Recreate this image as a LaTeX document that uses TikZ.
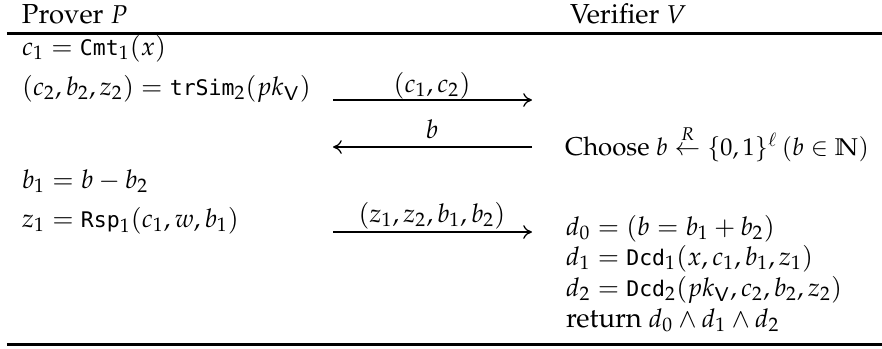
\documentclass[tikz,border=0pt]{standalone}
\usepackage[no-math]{fontspec}
\newfontfamily\dmono{DejaVu Sans Mono}
\usepackage[T1]{fontenc}
\usepackage{amssymb}
\usepackage{mathpazo}
\usetikzlibrary{arrows.meta}
\newcommand\mth[1]{{\fontsize{10.3}{12}\selectfont$#1$}}
\newcommand\mths[1]{{\fontsize{9.7}{12}\selectfont$#1$}}
\newcommand\tto[1]{\mbox{\dmono\fontsize{8.6}{10}\selectfont #1}}
\tikzset{
  txt/.style={anchor=base west, inner sep=0pt, outer sep=0pt, font=\fontencoding{T1}\fontfamily{ppl}\fontsize{11}{14}\selectfont},
  txts/.style={txt, font=\fontencoding{T1}\fontfamily{ppl}\fontsize{10.3}{13}\selectfont},
  lbl/.style={anchor=base, inner sep=0pt, font=\fontencoding{T1}\fontfamily{ppl}\fontsize{11}{14}\selectfont},
  msg/.style={line width=0.5pt, -{Computer Modern Rightarrow[length=3.5pt,width=5.5pt]}},
  rulel/.style={line width=1.2pt}
}
\begin{document}
\begin{tikzpicture}[x=0.4pt, y=-0.4pt]
\useasboundingbox (0,0) rectangle (882,348);
% headers
\node[txt] (hp) at (22,23) {Prover \mth{P}};
\node[txt] (hv) at (570,23) {Verifier \mth{V}};
\coordinate (tl) at (7,33); \coordinate (tr) at (882,33);
\draw[rulel] (tl) -- (tr);
% prover column
\node[txt] (p1) at (22,55) {\mth{c_1 = \tto{Cmt}_1(x)}};
\node[txt] (p2) at (22,95) {\mth{(c_2,b_2,z_2) = \tto{trSim}_2(pk_{\mathsf{V}})}};
\node[txt] (p3) at (22,188) {\mth{b_1 = b - b_2}};
\node[txt] (p4) at (22,227) {\mth{z_1 = \tto{Rsp}_1(c_1,w,b_1)}};
% verifier column
\node[txts] (v1) at (565,155) {Choose \mths{b \stackrel{R}{\leftarrow} \{0,1\}^{\ell}\,(b\in\mathbb{N})}};
\node[txt] (v2) at (566,235) {\mth{d_0 = (b = b_1 + b_2)}};
\node[txt] (v3) at (566,265) {\mth{d_1 = \tto{Dcd}_1(x,c_1,b_1,z_1)}};
\node[txt] (v4) at (566,296) {\mth{d_2 = \tto{Dcd}_2(pk_{\mathsf{V}},c_2,b_2,z_2)}};
\node[txt] (v5) at (566,327) {return \mth{d_0 \wedge d_1 \wedge d_2}};
% messages
\coordinate (a1s) at (333,100); \coordinate (a1e) at (532,100);
\coordinate (a2s) at (532,147); \coordinate (a2e) at (333,147);
\coordinate (a3s) at (333,232); \coordinate (a3e) at (532,232);
\draw[msg] (a1s) -- (a1e);
\draw[msg] (a2s) -- (a2e);
\draw[msg] (a3s) -- (a3e);
\node[lbl] (l1) at (432,92) {\mth{(c_1,c_2)}};
\node[lbl] (l2) at (432,138) {\mth{b}};
\node[lbl] (l3) at (432,222) {\mth{(z_1,z_2,b_1,b_2)}};
\coordinate (bl) at (7,344.5); \coordinate (br) at (882,344.5);
\draw[rulel] (bl) -- (br);
\end{tikzpicture}
\end{document}
